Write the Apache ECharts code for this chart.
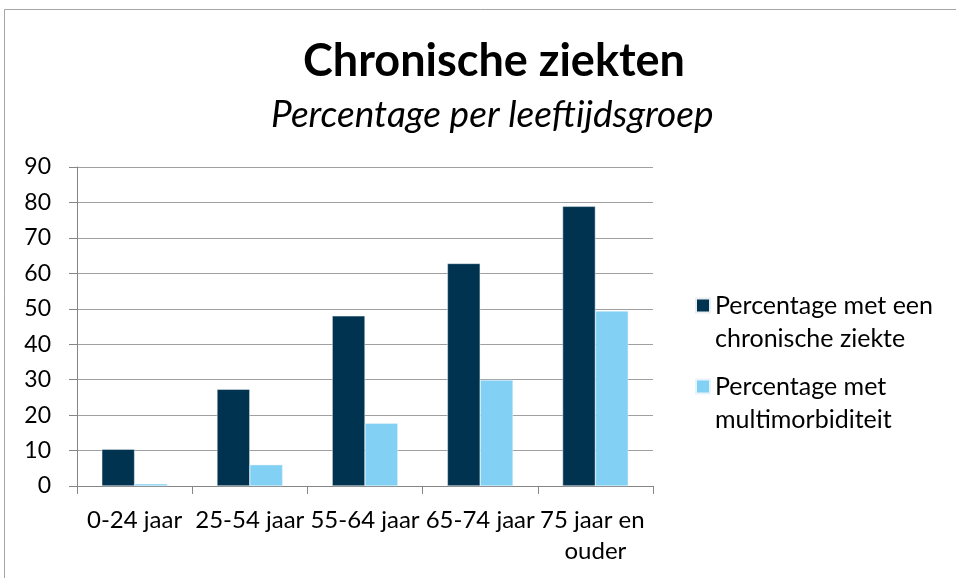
<!DOCTYPE html>
<html>
<head>
<meta charset="utf-8">
<script src="https://cdn.jsdelivr.net/npm/echarts@6/dist/echarts.min.js"></script>
<style>
  html, body { margin: 0; padding: 0; background: #fff; }
  #chart { width: 956px; height: 578px; }
</style>
</head>
<body>
<div id="chart"></div>
<script>
// data
var categories = ['0-24 jaar', '25-54 jaar', '55-64 jaar', '65-74 jaar', '75 jaar en ouder'];
var chronisch = [10.4, 27.3, 48, 62.8, 78.9];
var multimorbiditeit = [0.6, 6, 17.7, 29.9, 49.4];
var yTicks = [0, 90, 10]; // min, max, interval

var seriesNames = ['Percentage met een chronische ziekte', 'Percentage met multimorbiditeit'];
// leading empty line keeps the square next to the first text line
var legendText = {
  'Percentage met een chronische ziekte': '\nPercentage met een\nchronische ziekte',
  'Percentage met multimorbiditeit': '\nPercentage met\nmultimorbiditeit'
};

var font = 'Lato, "Noto Sans", sans-serif';
var myChart = echarts.init(document.getElementById('chart'));

var option = {
  animation: false,
  color: ['#003350', '#82d0f4'],
  title: [{
    text: 'Chronische ziekten',
    left: 298,
    top: 34,
    textStyle: { fontFamily: font, fontSize: 45, fontWeight: 'bold', color: '#000' }
  }, {
    text: 'Percentage per leeftijdsgroep',
    left: 266,
    top: 92,
    textStyle: { fontFamily: font, fontSize: 37, fontStyle: 'italic', fontWeight: 'normal', color: '#000' }
  }],
  graphic: [{
    type: 'rect',
    shape: { x: 4.5, y: 9.5, width: 1000, height: 1000 },
    style: { fill: 'none', stroke: '#a6a6a6', lineWidth: 1 }
  }],
  legend: {
    orient: 'vertical',
    left: 690,
    top: 251,
    itemWidth: 14,
    itemHeight: 14,
    itemGap: -18,
    icon: 'rect',
    formatter: function (name) { return legendText[name]; },
    textStyle: {
      fontFamily: font,
      fontSize: 25,
      lineHeight: 33,
      color: '#000'
    },
    data: seriesNames
  },
  grid: {
    left: 77,
    right: 303,
    top: 167,
    bottom: 92
  },
  xAxis: {
    type: 'category',
    data: categories,
    axisLine: { lineStyle: { color: '#868686', width: 1 } },
    axisTick: { show: true, length: 8, lineStyle: { color: '#868686' } },
    axisLabel: {
      fontFamily: font,
      fontSize: 24,
      color: '#000',
      margin: 19,
      lineHeight: 31,
      interval: 0,
      width: 118,
      overflow: 'break'
    }
  },
  yAxis: {
    type: 'value',
    min: yTicks[0],
    max: yTicks[1],
    interval: yTicks[2],
    axisLine: { show: true, lineStyle: { color: '#868686', width: 1 } },
    axisTick: { show: true, length: 8, lineStyle: { color: '#868686' } },
    axisLabel: { fontFamily: font, fontSize: 23, color: '#000', margin: 26 },
    splitLine: { lineStyle: { color: '#a0a0a0', width: 1 } }
  },
  series: [{
    name: seriesNames[0],
    type: 'bar',
    data: chronisch,
    barGap: '0%',
    barCategoryGap: '43%',
    itemStyle: { borderColor: '#e8eef2', borderWidth: 0.5 }
  }, {
    name: seriesNames[1],
    type: 'bar',
    data: multimorbiditeit,
    itemStyle: { borderColor: '#e8f4fa', borderWidth: 0.5 }
  }]
};

myChart.setOption(option);
window.addEventListener('resize', function () {
  myChart.resize();
});
</script>
</body>
</html>
